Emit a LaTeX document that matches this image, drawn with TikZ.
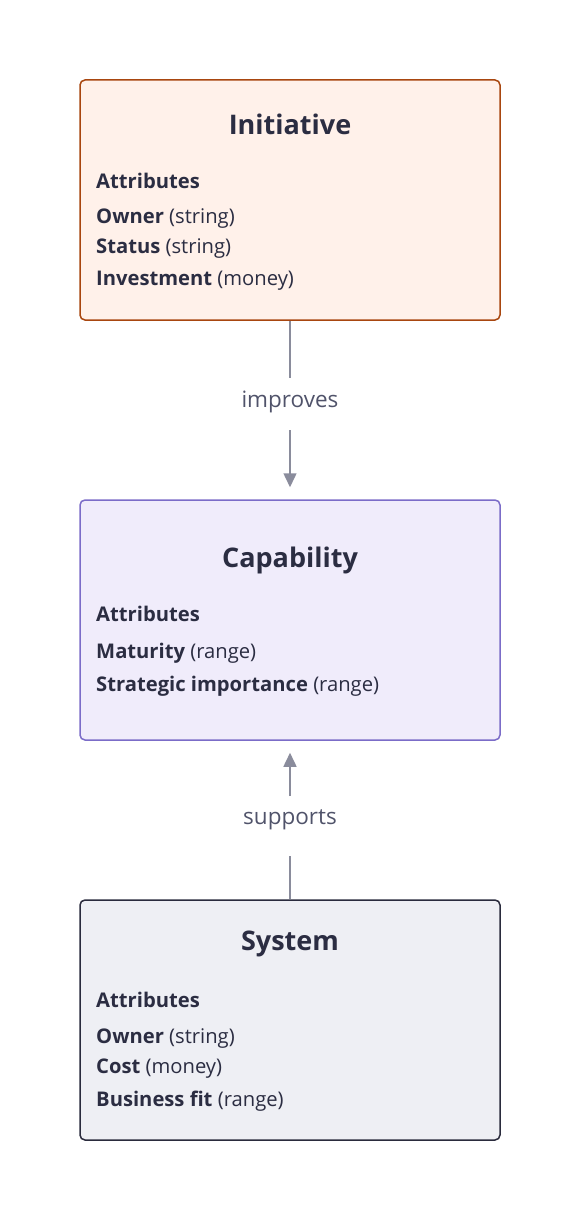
\documentclass[tikz,border=0pt]{standalone}
\usepackage{fontspec}
\setmainfont{Open Sans}
\usetikzlibrary{arrows.meta}
\definecolor{txt}{HTML}{2B2D42}
\definecolor{edge}{HTML}{8A8C9C}
\definecolor{lbl}{HTML}{50536A}
\definecolor{ifill}{HTML}{FFF1EA}
\definecolor{idraw}{HTML}{A8460F}
\definecolor{cfill}{HTML}{F0ECFB}
\definecolor{cdraw}{HTML}{7B6CC8}
\definecolor{sfill}{HTML}{EEEFF4}
\definecolor{sdraw}{HTML}{2A2B3D}
\tikzset{
  box/.style={rounded corners=5pt, line width=1.5pt, minimum width=420pt, minimum height=240pt, inner sep=0pt},
  title/.style={text=txt, font=\fontsize{27}{31}\selectfont\bfseries, inner sep=0pt},
  attr/.style={text=txt, font=\fontsize{20.2}{24}\selectfont, anchor=west, inner sep=0pt},
  elabel/.style={text=lbl, font=\fontsize{22.5}{26}\selectfont, inner sep=0pt},
  conn/.style={draw=edge, line width=1.5pt},
  arr/.style={conn, -{Triangle[length=14pt,width=13pt]}, shorten >=12pt}
}
\begin{document}
\begin{tikzpicture}[x=1pt,y=-1pt]
\useasboundingbox (0,0) rectangle (580,1220);
\node[box, fill=ifill, draw=idraw] (init) at (290,200) {};
\node[box, fill=cfill, draw=cdraw] (cap) at (290,620) {};
\node[box, fill=sfill, draw=sdraw] (sys) at (290,1020) {};

\node[title] (t1) at (290,124) {Initiative};
\node[attr] (a1) at (96,181) {\bfseries Attributes};
\node[attr] (a1a) at (96,219) {\textbf{Owner} (string)};
\node[attr] (a1b) at (96,249) {\textbf{Status} (string)};
\node[attr] (a1c) at (96,281) {\textbf{Investment} (money)};

\node[title] (t2) at (290,560) {Capability};
\node[attr] (a2) at (96,614) {\bfseries Attributes};
\node[attr] (a2a) at (96,653) {\textbf{Maturity} (range)};
\node[attr] (a2b) at (96,686) {\textbf{Strategic importance} (range)};

\node[title] (t3) at (290,944) {System};
\node[attr] (a3) at (96,1000) {\bfseries Attributes};
\node[attr] (a3a) at (96,1039) {\textbf{Owner} (string)};
\node[attr] (a3b) at (96,1069) {\textbf{Cost} (money)};
\node[attr] (a3c) at (96,1101) {\textbf{Business fit} (range)};

\node[elabel] (l1) at (290,402) {improves};
\coordinate (l1t) at (290,378);
\coordinate (l1b) at (290,430);
\draw[conn] (init.south) -- (l1t);
\draw[arr] (l1b) -- (cap.north);

\node[elabel] (l2) at (290,820) {supports};
\coordinate (l2t) at (290,796);
\coordinate (l2b) at (290,856);
\draw[conn] (sys.north) -- (l2b);
\draw[arr] (l2t) -- (cap.south);
\end{tikzpicture}
\end{document}
